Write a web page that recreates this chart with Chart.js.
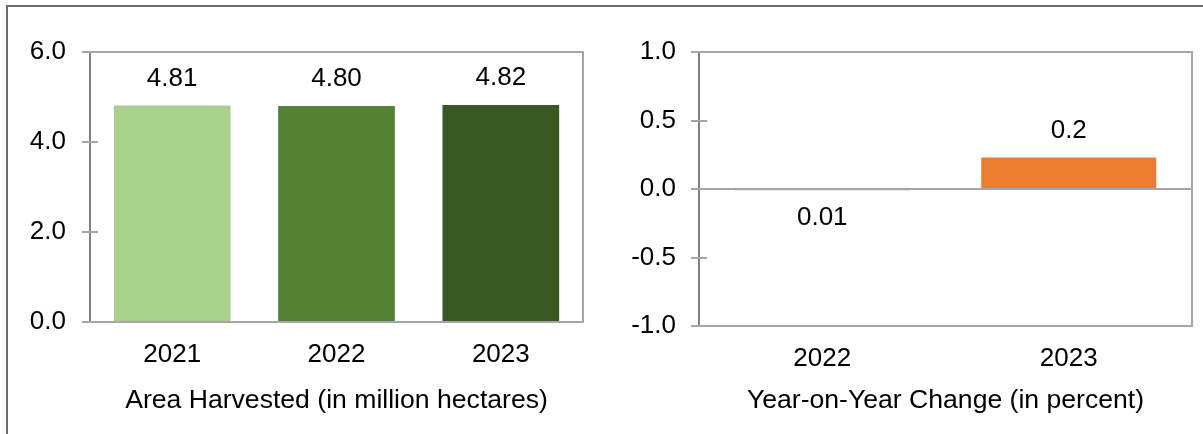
<!DOCTYPE html>
<html>
<head>
<meta charset="utf-8">
<script src="https://cdn.jsdelivr.net/npm/chart.js@4/dist/chart.umd.min.js"></script>
<style>
  html, body { margin:0; padding:0; background:#fff; width:1203px; height:434px; overflow:hidden; }
  #frame { position:absolute; left:6px; top:5px; width:1400px; height:600px; border:2px solid #6b6b6b; box-sizing:border-box; }
  canvas { position:absolute; top:0; }
  #area { left:0; }
  #yoy { left:600px; }
</style>
</head>
<body>
<div id="frame"></div>
<canvas id="area" width="600" height="434"></canvas>
<canvas id="yoy" width="603" height="434"></canvas>
<script>
// area harvested, million hectares
const areaYears = ['2021', '2022', '2023'];
const areaValues = [4.81, 4.80, 4.82];
const areaColors = ['#a9d18e', '#548235', '#385723'];

// year-on-year change, percent
const yoyYears = ['2022', '2023'];
const yoyValues = [-0.01, 0.23];
const yoyLabels = ['0.01', '0.2'];

Chart.defaults.font.family = '"Liberation Sans", Arial, sans-serif';
Chart.defaults.font.size = 26;
Chart.defaults.color = '#000';

// top/right border of plot + crossing tick marks on the y axis
const plotFrame = {
  id: 'plotFrame',
  afterDatasetsDraw(chart) {
    const { ctx, chartArea: a, scales: { y } } = chart;
    ctx.save();
    ctx.lineWidth = 2;
    ctx.strokeStyle = '#a6a6a6';
    ctx.beginPath();
    ctx.moveTo(a.left, a.top);
    ctx.lineTo(a.right, a.top);
    ctx.lineTo(a.right, a.bottom);
    ctx.stroke();
    ctx.beginPath();
    y.ticks.forEach((t, i) => {
      const py = Math.round(y.getPixelForTick(i));
      ctx.moveTo(a.left - 8, py);
      ctx.lineTo(a.left + 8, py);
    });
    ctx.stroke();
    ctx.restore();
  }
};

const valueLabels = {
  id: 'valueLabels',
  afterDatasetsDraw(chart, args, opts) {
    const { ctx } = chart;
    const vals = chart.data.datasets[0].data;
    ctx.save();
    ctx.font = '26px "Liberation Sans", Arial, sans-serif';
    ctx.fillStyle = '#000';
    ctx.textAlign = 'center';
    ctx.textBaseline = 'middle';
    chart.getDatasetMeta(0).data.forEach((bar, i) => {
      const y = vals[i] >= 0 ? bar.y - opts.gap : bar.y + opts.gap;
      ctx.fillText(opts.texts[i], bar.x, y);
    });
    ctx.restore();
  }
};

function barChart(id, labels, data, colors, texts, opt) {
  return new Chart(document.getElementById(id), {
    type: 'bar',
    data: { labels, datasets: [{ data, backgroundColor: colors, borderWidth: 0,
      categoryPercentage: 1, barPercentage: 0.71 }] },
    options: {
      responsive: false,
      animation: false,
      layout: { padding: { top: 52, right: opt.right, left: 0, bottom: 0 } },
      plugins: { legend: { display: false }, tooltip: { enabled: false },
        valueLabels: { texts, gap: 27 } },
      scales: {
        x: {
          grid: { display: false, drawTicks: false },
          border: { color: '#a6a6a6', width: 2 },
          ticks: { padding: opt.xPad },
          title: { display: true, text: opt.title, font: { size: 26.6 }, padding: { top: 0, bottom: 17 } },
          afterFit: s => { s.height = opt.xHeight; }
        },
        y: {
          min: opt.min, max: opt.max,
          ticks: { stepSize: opt.step, padding: opt.yPad, callback: v => v.toFixed(1) },
          grid: { drawTicks: false, lineWidth: 2,
            color: c => (opt.zeroLine && c.tick && c.tick.value === 0) ? '#a6a6a6' : 'transparent' },
          border: { color: '#808080', width: 2 },
          afterFit: s => { s.width = opt.yWidth; }
        }
      }
    },
    plugins: [plotFrame, valueLabels]
  });
}

barChart('area', areaYears, areaValues, areaColors, areaValues.map(v => v.toFixed(2)), {
  title: 'Area Harvested (in million hectares)',
  min: 0, max: 6, step: 2, right: 17, yWidth: 90, xHeight: 112, xPad: 17, yPad: 24, zeroLine: false
});

barChart('yoy', yoyYears, yoyValues, '#ed7d31', yoyLabels, {
  title: 'Year-on-Year Change (in percent)',
  min: -1, max: 1, step: 0.5, right: 11, yWidth: 99, xHeight: 108, xPad: 17, yPad: 23, zeroLine: true
});
</script>
</body>
</html>
